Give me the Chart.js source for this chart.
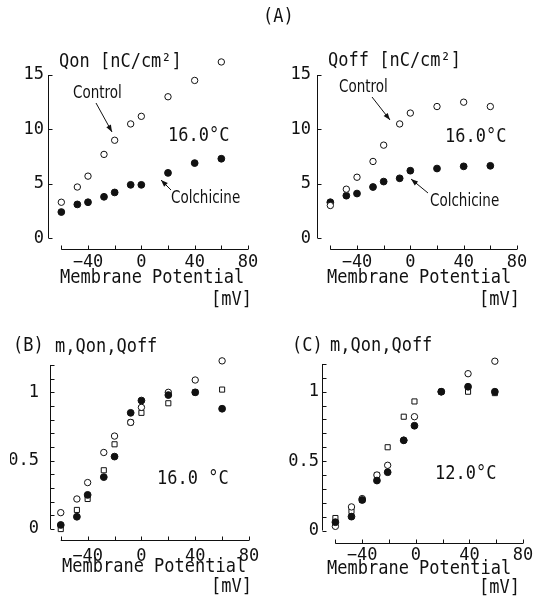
<!DOCTYPE html>
<html><head><meta charset="utf-8">
<script src="https://cdn.jsdelivr.net/npm/chart.js@4.4.1/dist/chart.umd.min.js"></script>
<style>
html,body{margin:0;padding:0;background:#fff;}
body{width:537px;height:603px;position:relative;overflow:hidden;}
canvas{position:absolute;left:0;top:0;}
</style></head><body>
<canvas id="cA1" width="537" height="603"></canvas>
<canvas id="cA2" width="537" height="603"></canvas>
<canvas id="cB" width="537" height="603"></canvas>
<canvas id="cC" width="537" height="603"></canvas>
<script>
// ---- data ----
const voltAB = [-60, -48, -40, -28, -20, -8, 0, 20, 40, 60];
const voltC  = [-60, -48, -40, -29, -21, -9, -1, 19, 39, 59];

const qonControl    = [3.3, 4.7, 5.7, 7.7, 9.0, 10.5, 11.2, 13.0, 14.5, 16.2];
const qonColchicine = [2.4, 3.1, 3.3, 3.8, 4.2, 4.9, 4.9, 6.0, 6.9, 7.3];
const qoffControl    = [3.0, 4.5, 5.6, 7.05, 8.55, 10.5, 11.5, 12.1, 12.5, 12.1];
const qoffColchicine = [3.3, 3.9, 4.1, 4.7, 5.2, 5.5, 6.2, 6.4, 6.6, 6.65];

const mB    = [0.12, 0.22, 0.34, 0.56, 0.68, 0.78, 0.89, 1.00, 1.09, 1.23];
const qonB  = [0.00, 0.14, 0.22, 0.43, 0.62, 0.78, 0.85, 0.92, 1.00, 1.02];
const qoffB = [0.03, 0.09, 0.25, 0.38, 0.53, 0.85, 0.94, 0.98, 1.00, 0.88];

const mC    = [0.03, 0.17, 0.23, 0.40, 0.47, 0.65, 0.82, 1.00, 1.13, 1.22];
const qonC  = [0.09, 0.14, 0.22, 0.40, 0.60, 0.82, 0.93, 1.00, 1.00, 0.99];
const qoffC = [0.06, 0.10, 0.22, 0.36, 0.42, 0.65, 0.755, 1.00, 1.036, 1.00];

const xTickLabels = [-40, 0, 40, 80];
const xTickMarks  = [-60, -40, -20, 0, 20, 40, 60, 80];
const yTickLabelsA = [0, 5, 10, 15];
const yTickMarksA  = [0, 5, 10, 15];
const yTickLabelsBC = [0, 0.5, 1];
const yTickMarksBC  = [0, 0.1, 0.2, 0.3, 0.4, 0.5, 0.6, 0.7, 0.8, 0.9, 1.0, 1.1, 1.2];

// ---- styling / layout ----
const W = 537, H = 603, YW = 40, XH = 40;
const INK = '#111';
const MONO = '"DejaVu Sans Mono", monospace';
const COND = '"DejaVu Sans Condensed", "DejaVu Sans", sans-serif';

function pts(xs, ys) { return xs.map((x, i) => ({x: x, y: ys[i]})); }
function openCircle(label, xs, ys) {
  return {label, data: pts(xs, ys), pointStyle: 'circle', pointRadius: 3.2,
    pointBackgroundColor: '#fff', pointBorderColor: INK, pointBorderWidth: 1, clip: false};
}
function filledCircle(label, xs, ys) {
  return {label, data: pts(xs, ys), pointStyle: 'circle', pointRadius: 3.4,
    pointBackgroundColor: INK, pointBorderColor: INK, pointBorderWidth: 1, clip: false};
}
function openSquare(label, xs, ys) {
  return {label, data: pts(xs, ys), pointStyle: 'rect', pointRadius: 3.6,
    pointBackgroundColor: '#fff', pointBorderColor: INK, pointBorderWidth: 1, clip: false};
}

function drawArrow(ctx, x1, y1, x2, y2) {
  ctx.beginPath(); ctx.moveTo(x1, y1); ctx.lineTo(x2, y2); ctx.stroke();
  const a = Math.atan2(y2 - y1, x2 - x1), L = 7, w = 2.6;
  ctx.beginPath();
  ctx.moveTo(x2, y2);
  ctx.lineTo(x2 - L * Math.cos(a) + w * Math.sin(a), y2 - L * Math.sin(a) - w * Math.cos(a));
  ctx.lineTo(x2 - L * Math.cos(a) - w * Math.sin(a), y2 - L * Math.sin(a) + w * Math.cos(a));
  ctx.closePath(); ctx.fill();
}

function makeChart(id, cfg) {
  const marks = {
    id: 'marks_' + id,
    beforeDatasetsDraw(chart) {
      const {ctx, chartArea} = chart, x = chart.scales.x, y = chart.scales.y;
      ctx.save(); ctx.strokeStyle = INK; ctx.lineWidth = 1;
      const ax = Math.round(chartArea.left) + 0.5;
      const ay = Math.round(chartArea.bottom) + 0.5;
      ctx.beginPath();
      ctx.moveTo(ax, y.getPixelForValue(cfg.yTicks[0]));
      ctx.lineTo(ax, y.getPixelForValue(cfg.yTicks[cfg.yTicks.length - 1]));
      cfg.yTicks.forEach(v => { const py = Math.round(y.getPixelForValue(v)) + 0.5; ctx.moveTo(ax, py); ctx.lineTo(ax + 4, py); });
      ctx.moveTo(x.getPixelForValue(xTickMarks[0]), ay);
      ctx.lineTo(x.getPixelForValue(xTickMarks[xTickMarks.length - 1]), ay);
      xTickMarks.forEach(v => { const px = Math.round(x.getPixelForValue(v)) + 0.5; ctx.moveTo(px, ay); ctx.lineTo(px, ay - 4); });
      ctx.stroke();
      ctx.restore();
    },
    afterDraw(chart) {
      const ctx = chart.ctx;
      ctx.save();
      ctx.fillStyle = INK; ctx.strokeStyle = INK; ctx.lineWidth = 1;
      ctx.textBaseline = 'middle';
      (cfg.texts || []).forEach(t => {
        const sy = t.sy || 1.12;
        ctx.save();
        ctx.translate(t.x, t.y);
        ctx.scale(1, sy);
        ctx.font = t.font || ('17px ' + MONO);
        ctx.textAlign = t.align || 'left';
        ctx.fillText(t.text, 0, 0);
        ctx.restore();
      });
      (cfg.arrows || []).forEach(a => drawArrow(ctx, a[0], a[1], a[2], a[3]));
      ctx.restore();
    }
  };
  return new Chart(document.getElementById(id), {
    type: 'scatter',
    data: {datasets: cfg.datasets},
    options: {
      responsive: false, animation: false, devicePixelRatio: 1, events: [],
      layout: {padding: {left: cfg.area.left - YW, right: W - cfg.area.right,
                         top: cfg.area.top, bottom: H - cfg.area.bottom - XH}},
      plugins: {legend: {display: false}, tooltip: {enabled: false}, title: {display: false}},
      scales: {
        x: {type: 'linear', min: cfg.xMin, max: 80,
            grid: {display: false, drawTicks: false}, border: {display: false},
            afterBuildTicks: s => { s.ticks = xTickLabels.map(v => ({value: v})); },
            afterFit: s => { s.height = XH; },
            ticks: {padding: cfg.xPad, autoSkip: false, maxRotation: 0, color: INK,
                    font: {family: MONO, size: 17},
                    callback: v => (v < 0 ? '\u2212' + Math.abs(v) : String(v))}},
        y: {type: 'linear', min: cfg.yMin, max: cfg.yMax,
            grid: {display: false, drawTicks: false}, border: {display: false},
            afterBuildTicks: s => { s.ticks = cfg.yLabels.map(v => ({value: v})); },
            afterFit: s => { s.width = YW; },
            ticks: {padding: cfg.yPad, autoSkip: false, color: INK,
                    font: {family: MONO, size: 17},
                    callback: v => String(v)}}
      }
    },
    plugins: [marks]
  });
}

const condFont = '15px ' + COND;

makeChart('cA1', {
  area: {left: 48, right: 248, top: 53.25, bottom: 249},
  xMin: -70, yMin: -1, yMax: 17, xPad: 3, yPad: 4,
  yLabels: yTickLabelsA, yTicks: yTickMarksA,
  datasets: [openCircle('Control', voltAB, qonControl), filledCircle('Colchicine', voltAB, qonColchicine)],
  texts: [
    {text: '(A)', x: 263, y: 17},
    {text: 'Qon [nC/cm\u00b2]', x: 59, y: 62},
    {text: 'Control', x: 73, y: 93, font: condFont, sy: 1.2},
    {text: '16.0\u00b0C', x: 168, y: 136},
    {text: 'Colchicine', x: 171, y: 198, font: condFont, sy: 1.2},
    {text: 'Membrane Potential', x: 60, y: 278},
    {text: '[mV]', x: 252, y: 300, align: 'right'}
  ],
  arrows: [[96, 103, 112, 132], [171, 190, 161, 180]]
});

makeChart('cA2', {
  area: {left: 317, right: 517, top: 53.25, bottom: 249},
  xMin: -70, yMin: -1, yMax: 17, xPad: 3, yPad: 6,
  yLabels: yTickLabelsA, yTicks: yTickMarksA,
  datasets: [openCircle('Control', voltAB, qoffControl), filledCircle('Colchicine', voltAB, qoffColchicine)],
  texts: [
    {text: 'Qoff [nC/cm\u00b2]', x: 328, y: 61},
    {text: 'Control', x: 339, y: 87, font: condFont, sy: 1.2},
    {text: '16.0\u00b0C', x: 445, y: 137},
    {text: 'Colchicine', x: 430, y: 201, font: condFont, sy: 1.2},
    {text: 'Membrane Potential', x: 327, y: 278},
    {text: '[mV]', x: 520, y: 300, align: 'right'}
  ],
  arrows: [[372, 97, 390, 120], [428, 193, 411, 179]]
});

makeChart('cB', {
  area: {left: 50, right: 249, top: 351.3, bottom: 540},
  xMin: -68, yMin: -0.08, yMax: 1.3, xPad: 6, yPad: 11,
  yLabels: yTickLabelsBC, yTicks: yTickMarksBC,
  datasets: [filledCircle('Qoff', voltAB, qoffB), openCircle('m', voltAB, mB), openSquare('Qon', voltAB, qonB)],
  texts: [
    {text: '(B)', x: 13, y: 346},
    {text: 'm,Qon,Qoff', x: 55, y: 347},
    {text: '16.0 \u00b0C', x: 157, y: 479},
    {text: 'Membrane Potential', x: 62, y: 567},
    {text: '[mV]', x: 252, y: 587, align: 'right'}
  ]
});

makeChart('cC', {
  area: {left: 322, right: 523, top: 350.1, bottom: 543},
  xMin: -70, yMin: -0.09, yMax: 1.3, xPad: 2, yPad: 3,
  yLabels: yTickLabelsBC, yTicks: yTickMarksBC,
  datasets: [filledCircle('Qoff', voltC, qoffC), openCircle('m', voltC, mC), openSquare('Qon', voltC, qonC)],
  texts: [
    {text: '(C)', x: 292, y: 346},
    {text: 'm,Qon,Qoff', x: 330, y: 346},
    {text: '12.0\u00b0C', x: 435, y: 474},
    {text: 'Membrane Potential', x: 327, y: 569},
    {text: '[mV]', x: 520, y: 588, align: 'right'}
  ]
});
</script>
</body></html>
